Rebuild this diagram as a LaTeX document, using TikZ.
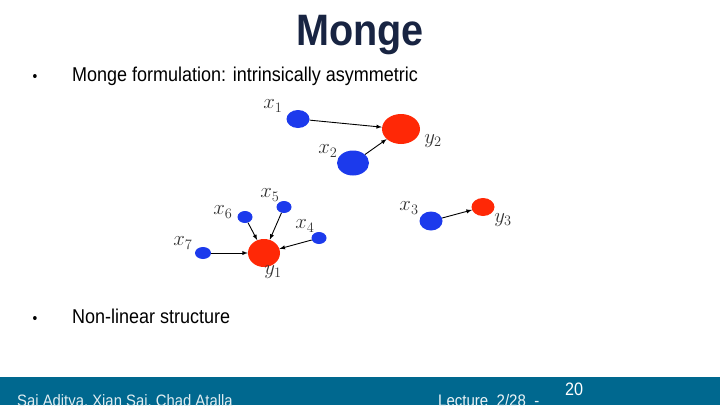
\documentclass[tikz,border=0pt]{standalone}
\usepackage{fontspec}
\setmainfont{Liberation Sans}[FakeStretch=0.9]
\usetikzlibrary{arrows,shapes.geometric}
\definecolor{ptblue}{RGB}{28,58,236}
\definecolor{ptred}{RGB}{255,40,6}
\definecolor{titlenavy}{RGB}{24,36,66}
\definecolor{barblue}{RGB}{0,104,143}

\begin{document}
\begin{tikzpicture}[
  x=1pt, y=-1pt,
  src/.style={ellipse, fill=ptblue, inner sep=0pt},
  dst/.style={ellipse, fill=ptred, inner sep=0pt},
  lbl/.style={text=black!80, font=\fontsize{21.5}{22}\selectfont, inner sep=0pt},
  flow/.style={black, line width=.9pt, -latex},
  slide/.style={inner sep=0pt, anchor=base west, font=\fontsize{20}{24}\selectfont}
]
  \useasboundingbox (0,0) rectangle (720,405);

  % title and bullets
  \node[anchor=base, inner sep=0pt, text=titlenavy, font=\fontsize{44}{50}\selectfont\bfseries] (title) at (360,45) {Monge};
  \node[slide, anchor=base, font=\fontsize{15}{18}\selectfont] (dot1) at (35,81) {\textbullet};
  \node[slide] (item1) at (72,81) {Monge formulation: intrinsically asymmetric};
  \node[slide, anchor=base, font=\fontsize{15}{18}\selectfont] (dot2) at (35,323) {\textbullet};
  \node[slide] (item2) at (72,323) {Non-linear structure};

  % sources and targets
  \node[src, minimum width=23pt, minimum height=18pt] (x1) at (298,119) {};
  \node[src, minimum width=32pt, minimum height=25pt] (x2) at (353,163) {};
  \node[src, minimum width=23pt, minimum height=19pt] (x3) at (431,221) {};
  \node[src, minimum width=15pt, minimum height=12pt] (x4) at (319,238) {};
  \node[src, minimum width=15pt, minimum height=12pt] (x5) at (284,207) {};
  \node[src, minimum width=15pt, minimum height=12pt] (x6) at (245,217) {};
  \node[src, minimum width=16pt, minimum height=12pt] (x7) at (203,253) {};
  \node[dst, minimum width=32pt, minimum height=28pt] (y1) at (264,253) {};
  \node[dst, minimum width=38pt, minimum height=30pt] (y2) at (401,129) {};
  \node[dst, minimum width=23pt, minimum height=18pt] (y3) at (483,207) {};

  % labels
  \node[lbl] (lx1) at (273,106) {$x_1$};
  \node[lbl] (lx2) at (328,151) {$x_2$};
  \node[lbl] (lx3) at (409,208) {$x_3$};
  \node[lbl] (lx4) at (305,226) {$x_4$};
  \node[lbl] (lx5) at (270,195) {$x_5$};
  \node[lbl] (lx6) at (223,212) {$x_6$};
  \node[lbl] (lx7) at (183,243) {$x_7$};
  \node[lbl] (ly1) at (273,272) {$y_1$};
  \node[lbl] (ly2) at (433,141) {$y_2$};
  \node[lbl] (ly3) at (503,220) {$y_3$};

  % transport map
  \draw[flow] (x1) -- (y2);
  \draw[flow] (x2) -- (y2);
  \draw[flow] (x3) -- (y3);
  \draw[flow] (x4) -- (y1);
  \draw[flow] (x5) -- (y1);
  \draw[flow] (x6) -- (y1);
  \draw[flow] (x7) -- (y1);

  % footer
  \fill[barblue] (0,377) rectangle (720,405);
  \node[inner sep=0pt, anchor=base west, text=white!88!barblue, font=\fontsize{16.5}{18}\selectfont] (authors) at (17,406) {Sai Aditya, Xian Sai, Chad Atalla};
  \node[inner sep=0pt, anchor=base west, text=white!92!barblue, font=\fontsize{16.7}{18}\selectfont] (lecture) at (438,406) {Lecture\ \ 2/28 \ -};
  \node[inner sep=0pt, anchor=base west, text=white, font=\fontsize{18}{20}\selectfont] (page) at (565,395) {20};
\end{tikzpicture}
\end{document}
